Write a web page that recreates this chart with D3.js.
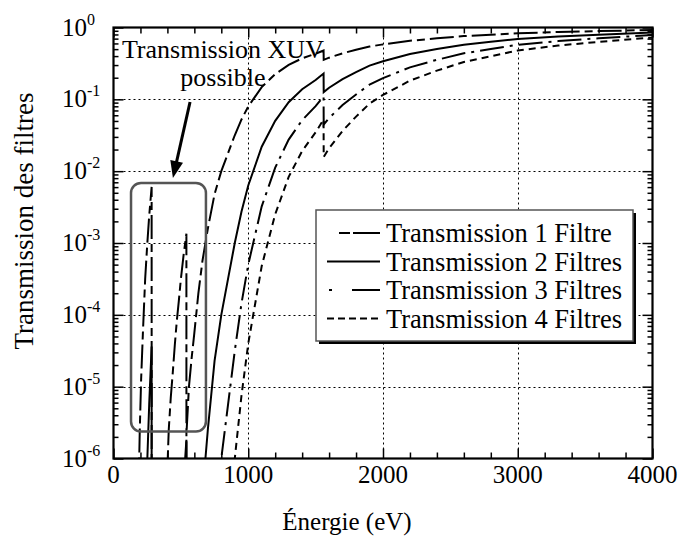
<!DOCTYPE html>
<html><head><meta charset="utf-8">
<script src="https://cdn.jsdelivr.net/npm/d3@7"></script>
<style>body{margin:0;background:#fff}svg text{font-family:'Liberation Serif','Times New Roman',Times,'Nimbus Roman',serif;fill:#000}</style>
</head><body>
<svg id="c" width="681" height="539" font-family="Liberation Serif, Times New Roman, serif"></svg>
<script>
// Energies (eV); null separates the three transmission windows (below C edge, below O edge, above O edge)
const energy = [186,195,205,218,235,250,265,283,283.5, null,
  395,410,425,440,455,470,485,500,520,541,541.5, null,
  543,560,580,600,630,660,700,750,800,850,900,950,1000,1100,1200,1300,1400,1500,1559,1560,1600,1700,1800,1900,2000,2200,2400,2600,2800,3000,3300,3600,4000];

const trans1 = [3.16e-7,2.51e-6,1.26e-5,5.50e-5,3.16e-4,9.33e-4,2.40e-3,6.03e-3,1e-12, null,
  3.98e-7,2.51e-6,7.08e-6,1.58e-5,3.80e-5,8.32e-5,1.58e-4,3.16e-4,6.76e-4,1.35e-3,1e-12, null,
  2.51e-6,1.0e-5,2.51e-5,5.62e-5,2.0e-4,5.62e-4,1.58e-3,4.79e-3,1.0e-2,1.78e-2,3.16e-2,5.25e-2,7.94e-2,0.148,0.224,0.302,0.372,0.432,0.479,0.355,0.380,0.437,0.490,0.543,0.582,0.653,0.708,0.759,0.794,0.832,0.865,0.891,0.923];

const trans2 = [1e-13,6.3e-12,1.6e-10,3.0e-9,1.0e-7,8.7e-7,5.75e-6,3.63e-5,1e-24, null,
  1.6e-13,6.3e-12,5.0e-11,2.5e-10,1.45e-9,6.9e-9,2.5e-8,1.0e-7,4.57e-7,1.82e-6,1e-24, null,
  6.3e-12,1e-10,6.3e-10,3.16e-9,4.0e-8,3.16e-7,2.51e-6,2.29e-5,1.0e-4,3.16e-4,1.0e-3,2.75e-3,6.31e-3,2.19e-2,5.01e-2,9.12e-2,0.138,0.186,0.229,0.126,0.145,0.191,0.240,0.295,0.339,0.427,0.501,0.575,0.631,0.692,0.748,0.794,0.851];

const trans3 = [3.2e-20,1.6e-17,2.0e-15,1.66e-13,3.16e-11,8.1e-10,1.38e-8,2.19e-7,1e-36, null,
  6.3e-20,1.6e-17,3.5e-16,4.0e-15,5.5e-14,5.75e-13,4.0e-12,3.16e-11,3.1e-10,2.45e-9,1e-36, null,
  1.6e-17,1e-15,1.6e-14,1.78e-13,7.9e-12,1.78e-10,4.0e-9,1.10e-7,1.0e-6,5.62e-6,3.16e-5,1.45e-4,5.01e-4,3.24e-3,1.12e-2,2.75e-2,5.13e-2,8.04e-2,0.110,4.47e-2,5.50e-2,8.32e-2,0.117,0.160,0.197,0.279,0.355,0.437,0.501,0.575,0.647,0.708,0.785];

const trans4 = [1e-26,4.0e-23,2.5e-20,9.1e-18,1e-14,7.6e-13,3.3e-11,1.32e-9,1e-48, null,
  2.5e-26,4.0e-23,2.5e-21,6.3e-20,2.1e-18,4.8e-17,6.3e-16,1e-14,2.1e-13,3.3e-12,1e-48, null,
  4.0e-23,1e-20,4.0e-19,1e-17,1.6e-15,1e-13,6.3e-12,5.25e-10,1e-8,1e-7,1e-6,7.59e-6,3.98e-5,4.79e-4,2.51e-3,8.32e-3,1.91e-2,3.47e-2,5.25e-2,1.58e-2,2.09e-2,3.63e-2,5.75e-2,8.71e-2,0.115,0.182,0.251,0.331,0.398,0.479,0.560,0.631,0.724];

const seriesLabels = ["Transmission 1 Filtre","Transmission 2 Filtres","Transmission 3 Filtres","Transmission 4 Filtres"];
const xTicks = [0,1000,2000,3000,4000];
const yExponents = [0,-1,-2,-3,-4,-5,-6];
const xTitle = "Énergie (eV)";
const yTitle = "Transmission des filtres";
const noteLines = ["Transmission XUV","possible"];

// annotation anchors in data units
const noteAt = {e: 812, t: [0.376, 0.1534]};
const windowBox = {e0: 130, e1: 686, tTop: 6.84e-3, tBottom: 2.38e-6};
const arrowFrom = {e: 568, t: 0.0918}, arrowTo = {e: 441, t: 8.03e-3};

const styles = [
  {dash: "24,5,8,5", legendDash: "11,3,28", l0: 339},
  {dash: null, legendDash: null, l0: 327},
  {dash: "24,6,3,6", legendDash: "3,20,28", l0: 329},
  {dash: "7,5", legendDash: "7,4", l0: 327}
];
const seriesData = [trans1, trans2, trans3, trans4];

const svg = d3.select("#c");
const x = d3.scaleLinear().domain([0,4000]).range([113.5,652.5]);
const y = d3.scaleLog().domain([1e-6,1]).range([458.5,27.5]);
const X0 = x(0), X1 = x(4000), Y0 = y(1e-6), Y1 = y(1);
const FONT = "'Liberation Serif','Times New Roman',Times,serif";

svg.append("defs").append("clipPath").attr("id","plot")
  .append("rect").attr("x",X0).attr("y",Y1).attr("width",X1-X0).attr("height",Y0-Y1);

// grid
const g = svg.append("g");
g.selectAll(".gx").data(xTicks.slice(1,-1)).join("line")
  .attr("x1",d=>Math.round(x(d))+0.5).attr("x2",d=>Math.round(x(d))+0.5)
  .attr("y1",Y1).attr("y2",Y0).attr("stroke","#000").attr("stroke-width",1).attr("stroke-dasharray","2,3");
g.selectAll(".gy").data(yExponents.slice(1,-1)).join("line")
  .attr("y1",d=>Math.round(y(Math.pow(10,d)))+0.5).attr("y2",d=>Math.round(y(Math.pow(10,d)))+0.5)
  .attr("x1",X0).attr("x2",X1).attr("stroke","#000").attr("stroke-width",1).attr("stroke-dasharray","2,3");

// axes ticks (inward)
const minorX = d3.range(0,4001,200).filter(d=>d%1000!==0);
const majorY = yExponents.map(e=>Math.pow(10,e));
const minorY = [];
for (let k=-6;k<0;k++) for (let m=2;m<10;m++) minorY.push(m*Math.pow(10,k));

function tickAxis(axisFn, scale, vals, size, tr) {
  const a = svg.append("g").attr("transform",tr)
    .call(axisFn(scale).tickValues(vals).tickSize(-size).tickFormat(""));
  a.select(".domain").remove();
  a.selectAll("line").attr("stroke","#000").attr("stroke-width",1.5);
}
tickAxis(d3.axisBottom, x, xTicks, 10, `translate(0,${Y0})`);
tickAxis(d3.axisBottom, x, minorX, 6, `translate(0,${Y0})`);
tickAxis(d3.axisTop, x, xTicks, 10, `translate(0,${Y1})`);
tickAxis(d3.axisTop, x, minorX, 6, `translate(0,${Y1})`);
tickAxis(d3.axisLeft, y, majorY, 10, `translate(${X0},0)`);
tickAxis(d3.axisLeft, y, minorY, 5, `translate(${X0},0)`);
tickAxis(d3.axisRight, y, majorY, 10, `translate(${X1},0)`);
tickAxis(d3.axisRight, y, minorY, 5, `translate(${X1},0)`);

// curves
const idx = d3.range(energy.length);
const plotG = svg.append("g").attr("clip-path","url(#plot)");
seriesData.forEach((vals,s)=>{
  const line = d3.line()
    .defined(i => energy[i] !== null && vals[i] !== null)
    .x(i => x(energy[i])).y(i => y(vals[i]));
  plotG.append("path").attr("d", line(idx)).attr("fill","none")
    .attr("stroke","#000").attr("stroke-width",2)
    .attr("stroke-dasharray", styles[s].dash);
});

// frame
svg.append("rect").attr("x",X0).attr("y",Y1).attr("width",X1-X0).attr("height",Y0-Y1)
  .attr("fill","none").attr("stroke","#000").attr("stroke-width",2.2);

// tick labels
svg.append("g").selectAll("text").data(xTicks).join("text")
  .attr("font-family",FONT)
  .attr("x",d=>x(d)).attr("y",Y0+24).attr("text-anchor","middle").attr("font-size",25).text(d=>d);
const yl = svg.append("g").selectAll("text").data(yExponents).join("text")
  .attr("font-family",FONT)
  .attr("x",62).attr("y",d=>y(Math.pow(10,d))+8).attr("font-size",25);
yl.append("tspan").text("10");
yl.append("tspan").attr("dy",-11).attr("font-size",16).text(d=>String(d));

// titles
svg.append("text").attr("font-family",FONT).attr("x",347).attr("y",530).attr("text-anchor","middle").attr("font-size",25).text(xTitle);
svg.append("text").attr("font-family",FONT).attr("transform","translate(33,221) rotate(-90)").attr("text-anchor","middle").attr("font-size",27).text(yTitle);

// annotation
svg.append("rect").attr("x",x(windowBox.e0)).attr("y",y(windowBox.tTop))
  .attr("width",x(windowBox.e1)-x(windowBox.e0)).attr("height",y(windowBox.tBottom)-y(windowBox.tTop))
  .attr("rx",10).attr("fill","none").attr("stroke","#555").attr("stroke-width",2.5);
noteLines.forEach((t,i)=>{
  svg.append("text").attr("font-family",FONT).attr("x",x(noteAt.e)).attr("y",y(noteAt.t[i])).attr("text-anchor","middle")
    .attr("font-size",26).text(t);
});
{
  const ax0 = x(arrowFrom.e), ay0 = y(arrowFrom.t), ax1 = x(arrowTo.e), ay1 = y(arrowTo.t);
  const len = Math.hypot(ax1-ax0, ay1-ay0), ux = (ax1-ax0)/len, uy = (ay1-ay0)/len;
  const hl = 17, hw = 6.5;
  const bx = ax1-ux*hl, by = ay1-uy*hl;
  svg.append("line").attr("x1",ax0).attr("y1",ay0).attr("x2",bx+ux*2).attr("y2",by+uy*2)
    .attr("stroke","#000").attr("stroke-width",3);
  svg.append("path").attr("d",`M${ax1},${ay1}L${bx-uy*hw},${by+ux*hw}L${bx+uy*hw},${by-ux*hw}Z`).attr("fill","#000");
}

// legend
const lg = svg.append("g");
lg.append("rect").attr("x",319).attr("y",213).attr("width",317).attr("height",131).attr("fill","#000");
lg.append("rect").attr("x",316).attr("y",210).attr("width",317).attr("height",131)
  .attr("fill","#fff").attr("stroke","#555").attr("stroke-width",1.5);
const rowY = [233, 261.5, 290, 318.5];
seriesLabels.forEach((lab,s)=>{
  lg.append("line").attr("x1",styles[s].l0).attr("x2",380).attr("y1",rowY[s]).attr("y2",rowY[s])
    .attr("stroke","#000").attr("stroke-width",2).attr("stroke-dasharray",styles[s].legendDash);
  lg.append("text").attr("font-family",FONT).attr("x",386).attr("y",rowY[s]+9).attr("font-size",26.5).text(lab);
});
</script>
</body></html>
